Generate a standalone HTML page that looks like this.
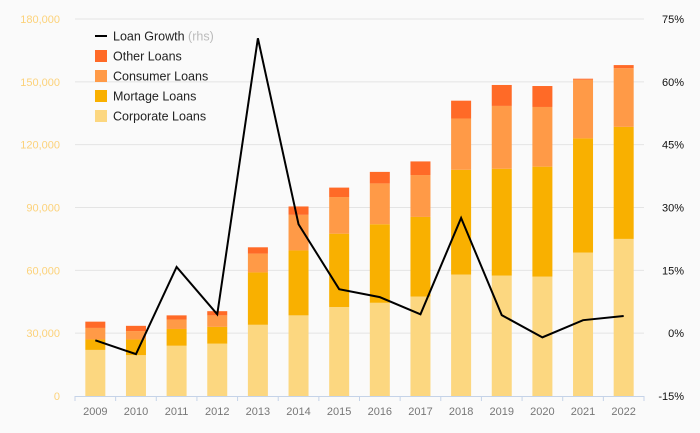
<!DOCTYPE html>
<html><head><meta charset="utf-8"><style>
html,body{margin:0;padding:0;background:#fafafa;}
svg{display:block;font-family:"Liberation Sans",sans-serif;}
</style></head><body>
<svg id="chart" width="700" height="433"></svg>
<script>
const years=["2009","2010","2011","2012","2013","2014","2015","2016","2017","2018","2019","2020","2021","2022"];
const corporate=[22000,19500,24000,25000,34000,38500,42500,44500,47500,58000,57500,57000,68500,75000];
const mortgage=[5000,7500,8000,8000,25000,31000,35000,37500,38000,50000,51000,52500,54500,53500];
const consumer=[5500,4000,4500,5500,9000,17000,17500,19500,20000,24500,30000,28500,28000,28000];
const other=[3000,2500,2000,2000,3000,4000,4500,5500,6500,8500,10000,10000,500,1500];
const growth=[-1.7,-5,15.8,4.5,70.4,26,10.5,8.6,4.5,27.5,4.3,-1,3.1,4.1];
const leftTicks=[0,30000,60000,90000,120000,150000,180000];
const rightTicks=[-15,0,15,30,45,60,75];
const NS="http://www.w3.org/2000/svg";
const svg=document.getElementById('chart');
const X0=75,X1=644,Y0=396,Y1=19;
const band=(X1-X0)/years.length;
const yL=v=>Y0-(v/180000)*(Y0-Y1);
const yR=p=>Y0-((p+15)/90)*(Y0-Y1);
const xC=i=>X0+band*(i+0.5);
function mk(t,a){const e=document.createElementNS(NS,t);for(const k in a)e.setAttribute(k,a[k]);svg.appendChild(e);return e;}
leftTicks.forEach(v=>{
  if(v>0){const g=mk('line',{x1:X0,x2:X1,y1:yL(v),y2:yL(v),stroke:'#e4e4e4','stroke-width':1});
  
  }
  const t=mk('text',{x:60,y:yL(v)+4,'text-anchor':'end','font-size':11,fill:'#fcd27a'});
  t.textContent=v.toLocaleString('en-US');
  
  
});
rightTicks.forEach(p=>{
  const t=mk('text',{x:684,y:yR(p)+4,'text-anchor':'end','font-size':11,fill:'#111'});
  t.textContent=p+'%';
  
  
});
const ax=mk('line',{x1:X0,x2:X1,y1:Y0+0.5,y2:Y0+0.5,stroke:'#c5d3e8','stroke-width':1});


const series=[[corporate,'#fcd780','corporate'],[mortgage,'#f9b000','mortgage'],[consumer,'#ff9a47','consumer'],[other,'#ff6a27','other']];
years.forEach((yr,i)=>{
  let base=0;
  series.forEach(([arr,c,n])=>{
    const r=mk('rect',{x:xC(i)-10,width:20,y:yL(base+arr[i]),height:yL(base)-yL(base+arr[i]),fill:c});
    
    
    base+=arr[i];
  });
  const tk=mk('line',{x1:X0+band*i,x2:X0+band*i,y1:Y0,y2:Y0+5,stroke:'#c5d3e8'});
  
  
  const t=mk('text',{x:xC(i),y:415,'text-anchor':'middle','font-size':11,fill:'#777'});
  t.textContent=yr;
  
  
});
const lt=mk('line',{x1:X1,x2:X1,y1:Y0,y2:Y0+5,stroke:'#c5d3e8'});


const pl=mk('polyline',{points:growth.map((g,i)=>xC(i)+','+yR(g)).join(' '),fill:'none',stroke:'#000','stroke-width':2});


const leg=[['Loan Growth','line','#000'],['Other Loans','sq','#ff6a27'],['Consumer Loans','sq','#ff9a47'],['Mortage Loans','sq','#f9b000'],['Corporate Loans','sq','#fcd780']];
leg.forEach(([l,k,c],j)=>{
  const y=36+j*20;
  if(k==='line'){const m=mk('line',{x1:95,x2:107,y1:y,y2:y,stroke:c,'stroke-width':2});
    
    }
  else{const m=mk('rect',{x:95,y:y-6,width:12,height:12,fill:c});
    
    }
  const t=mk('text',{x:113,y:y+4.5,'font-size':12.5,fill:'#222'});
  t.textContent=l;
  if(j===0){const s=document.createElementNS(NS,'tspan');s.setAttribute('fill','#bbb');s.textContent=' (rhs)';t.appendChild(s);}
  
  
});
</script>
</body></html>
